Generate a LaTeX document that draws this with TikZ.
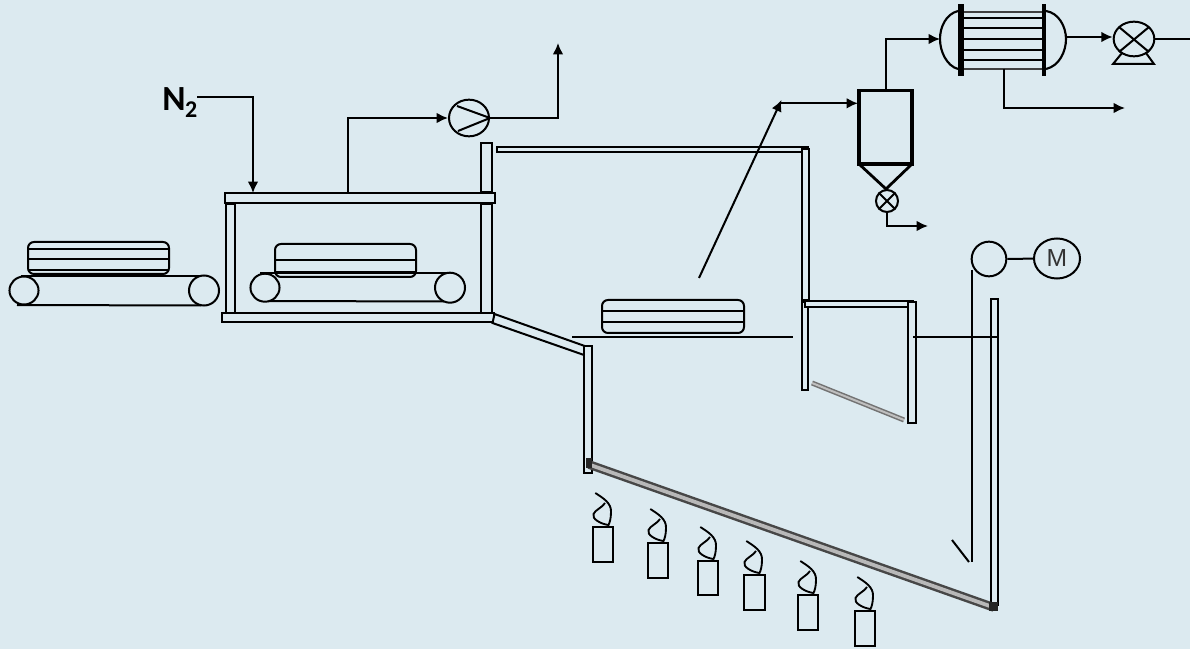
\documentclass[tikz,border=0pt]{standalone}
\usepackage{fontspec}
\setmainfont{Carlito}
\setsansfont{Liberation Sans}
\usetikzlibrary{arrows.meta,shapes.geometric}
\definecolor{bgc}{RGB}{220,234,240}
\tikzset{
  ln/.style={draw=black,line width=1.5pt},
  ar/.style={ln,-{Latex[length=8.5pt,width=8pt]}},
  wall/.style={draw=black,line width=1.5pt,fill=bgc},
  tray/.style={draw=black,line width=1.5pt,rounded corners=4.5pt},
  roller/.style={draw=black,line width=1.5pt,fill=bgc,ellipse,inner sep=0pt},
  plate/.style={draw=black,line width=1.6pt},
  candle/.style={draw=black,line width=1.4pt},
}
\newcommand{\burner}[5]{% name, x0, y0, x1, y1
  \draw[candle] (#2,#3) rectangle (#4,#5);
  \draw[candle] (#2+2.3,#3-34) .. controls (#2+10,#3-29) and (#2+18.5,#3-24) .. (#2+18,#3-15)
     .. controls (#2+18,#3-8) and (#2+16.5,#3-4) .. (#2+15.5,#3-2)
     .. controls (#2+8,#3-3) and (#2-1.5,#3-8) .. (#2+0.5,#3-13)
     .. controls (#2+2,#3-17) and (#2+10,#3-20) .. (#2+12,#3-24);
}
\begin{document}
\begin{tikzpicture}[x=0.75pt,y=-0.75pt]
\path[fill=bgc] (0,0) rectangle (1190,649);
\useasboundingbox (0,0) rectangle (1190,649);

% N2 feed
\node[font=\bfseries\fontsize{26.5}{28}\selectfont,anchor=base west,inner sep=0pt] (n2) at (162,111) {N\kern-0.3pt\raisebox{-5.2pt}{\fontsize{18}{20}\selectfont 2}};
\coordinate (n2s) at (197,97.5);
\coordinate (n2c) at (253,97.5);
\coordinate (n2e) at (253,193);
\draw[ar] (n2s) -- (n2c) -- (n2e);

% Left conveyor
\draw[ln] (21,276) -- (205,276);
\draw[ln] (17,305) -- (201,305.5);
\node[roller,minimum width=21.8pt,minimum height=21pt] (r1) at (24,290.5) {};
\node[roller,minimum width=22.5pt,minimum height=22.5pt] (r2) at (204,290.5) {};
\draw[tray] (28,274) rectangle (169,242);
\draw[ln] (28,248.7) -- (169,248.7);
\draw[ln] (28,259) -- (169,259);
\draw[ln] (28,270) -- (169,270);

% Dryer box
\draw[wall] (226,204) rectangle (235,313);
\draw[wall] (480.7,204) rectangle (492,313);
\draw[wall] (480.7,142.7) rectangle (492,191.7);
\draw[wall] (224.6,192.7) rectangle (495,203.3);
\draw[wall] (222,313) rectangle (494,322);

% Inner conveyor
\draw[ln] (260,273) -- (448,273);
\draw[ln] (268,301) -- (444,301.5);
\node[roller,minimum width=21.8pt,minimum height=21pt] (r3) at (265,287.7) {};
\node[roller,minimum width=22.5pt,minimum height=22.5pt] (r4) at (450,287.7) {};
\draw[tray] (275,277) rectangle (416,244);
\draw[ln] (275,260) -- (416,260);
\draw[ln] (275,272) -- (416,272);

% Vent and compressor
\node[draw=black,line width=1.5pt,ellipse,minimum width=30pt,minimum height=27.5pt,inner sep=0pt] (comp) at (469,118) {};
\coordinate (ventS) at (347.5,193);
\coordinate (ventC) at (347.5,118);
\draw[ar] (ventS) -- (ventC) -- (comp.west);
\draw[ln] (457,106) -- (comp.east) -- (458,131);
\coordinate (ventO) at (558,118);
\coordinate (ventE) at (558,43);
\draw[ar] (comp.east) -- (ventO) -- (ventE);

% Upper duct
\draw[wall,line width=1.3pt] (497,146.7) rectangle (808,152);
\draw[wall,line width=1.3pt] (802,149) rectangle (809,300);

% Chute to pyrolysis chamber
\draw[wall] (494.5,314) -- (586.7,346.7) -- (584,355) -- (492.5,323) -- cycle;
\draw[wall] (584,346) rectangle (592,473);

% Mid tray and support
\draw[tray] (602,333) rectangle (744,300);
\draw[ln] (602,311) -- (744,311);
\draw[ln] (602,322) -- (744,322);
\draw[ln] (572,337) -- (793,337);

% Right section
\draw[wall] (802,302) rectangle (808,390);
\draw[wall] (805,301) rectangle (913,307);
\draw[wall] (908,302) rectangle (916,423);
\draw[draw=black!55,line width=3.8pt] (812,383) -- (904,420);
\draw[draw=black!25,line width=1.5pt] (812,383) -- (904,420);
\draw[wall,line width=1.3pt] (991,299) rectangle (998,605);
\draw[ln] (913,337) -- (997,337);

% Sloped hot plate
\draw[draw=black!72,line width=6.5pt] (589,464.5) -- (994,607.5);
\draw[draw=black!28,line width=2.8pt] (589,464.5) -- (994,607.5);
\fill[black!85] (586,458) rectangle (591.5,468);
\fill[black!85] (989,602) rectangle (998,611);

% Stirrer and motor
\node[draw=black,line width=1.5pt,circle,minimum size=26pt,inner sep=0pt] (stir) at (989,259) {};
\node[draw=black,line width=1.5pt,ellipse,minimum width=34.5pt,minimum height=30pt,inner sep=0pt,text=black!80,font=\sffamily\fontsize{18.5}{20}\selectfont] (motor) at (1057,258.5) {M};
\draw[ln] (stir) -- (motor);
\coordinate (shT) at (972,270);
\coordinate (shB) at (972,562);
\coordinate (shF) at (969,562);
\coordinate (shG) at (952,540);
\draw[ln] (shT) -- (shB);
\draw[ln] (shF) -- (shG);

% Burners
\burner{b1}{593}{527}{613}{562}
\burner{b2}{648}{543}{668}{578}
\burner{b3}{698}{561}{718}{595}
\burner{b4}{744}{575}{765}{610}
\burner{b5}{798}{595}{818}{630}
\burner{b6}{855}{611}{875}{646}

% Separator
\draw[draw=black,line width=2.3pt] (859,164) -- (859,90.5) -- (912,90.5) -- (912,164) -- cycle;
\draw[draw=black,line width=2.1pt] (859,164) -- (886,189) -- (912,164);
\node[draw=black,line width=1.5pt,circle,minimum size=16.5pt,inner sep=0pt] (val) at (887,201) {};
\draw[ln] (val.north west) -- (val.south east);
\draw[ln] (val.north east) -- (val.south west);
\coordinate (valC) at (887,226);
\coordinate (valE) at (928,226);
\draw[ar] (val.south) -- (valC) -- (valE);

% Vapour line / probe
\coordinate (probe) at (699,278);
\coordinate (probeT) at (781.5,100);
\coordinate (probeH) at (780,103.3);
\coordinate (sepL) at (858,103.3);
\draw[ar] (probe) -- (probeT);
\draw[ar] (probeH) -- (sepL);

% Condenser
\draw[plate] (958,11) .. controls (946,14) and (940,27) .. (940,39) .. controls (940,52) and (947,66) .. (958,69);
\draw[plate] (1046,11) .. controls (1059,13) and (1066,27) .. (1066,39) .. controls (1066,52) and (1059,66) .. (1046,69);
\draw[draw=black!75,line width=1.3pt] (964,12) -- (1042,12);
\foreach \yy in {18,28,39,50,60} \draw[ln] (964,\yy) -- (1042,\yy);
\draw[draw=black!75,line width=1.4pt] (964,69) -- (1042,69);
\fill[black] (958,4) rectangle (964,76);
\fill[black] (1042,4) rectangle (1046,76);
\coordinate (conIn) at (940,39);
\coordinate (sepT) at (886,90);
\coordinate (sepC) at (886,39);
\draw[ar] (sepT) -- (sepC) -- (conIn);
\coordinate (conOut) at (1067,37);
\node[draw=black,line width=1.5pt,ellipse,minimum width=30.5pt,minimum height=26pt,inner sep=0pt] (pump) at (1134,39) {};
\draw[ar] (conOut) -- (pump.west |- conOut);
\draw[ln] (1119,27) -- (1149,52);
\draw[ln] (1149,27) -- (1119,52);
\draw[ln] (1122,53) -- (1113,64) -- (1154,64) -- (1146,53);
\coordinate (pumpE) at (1190,39);
\draw[ln] (pump.east) -- (pumpE);
\coordinate (condS) at (1004,69);
\coordinate (condC) at (1004,108);
\coordinate (condE) at (1125,108);
\draw[ar] (condS) -- (condC) -- (condE);
\end{tikzpicture}
\end{document}
